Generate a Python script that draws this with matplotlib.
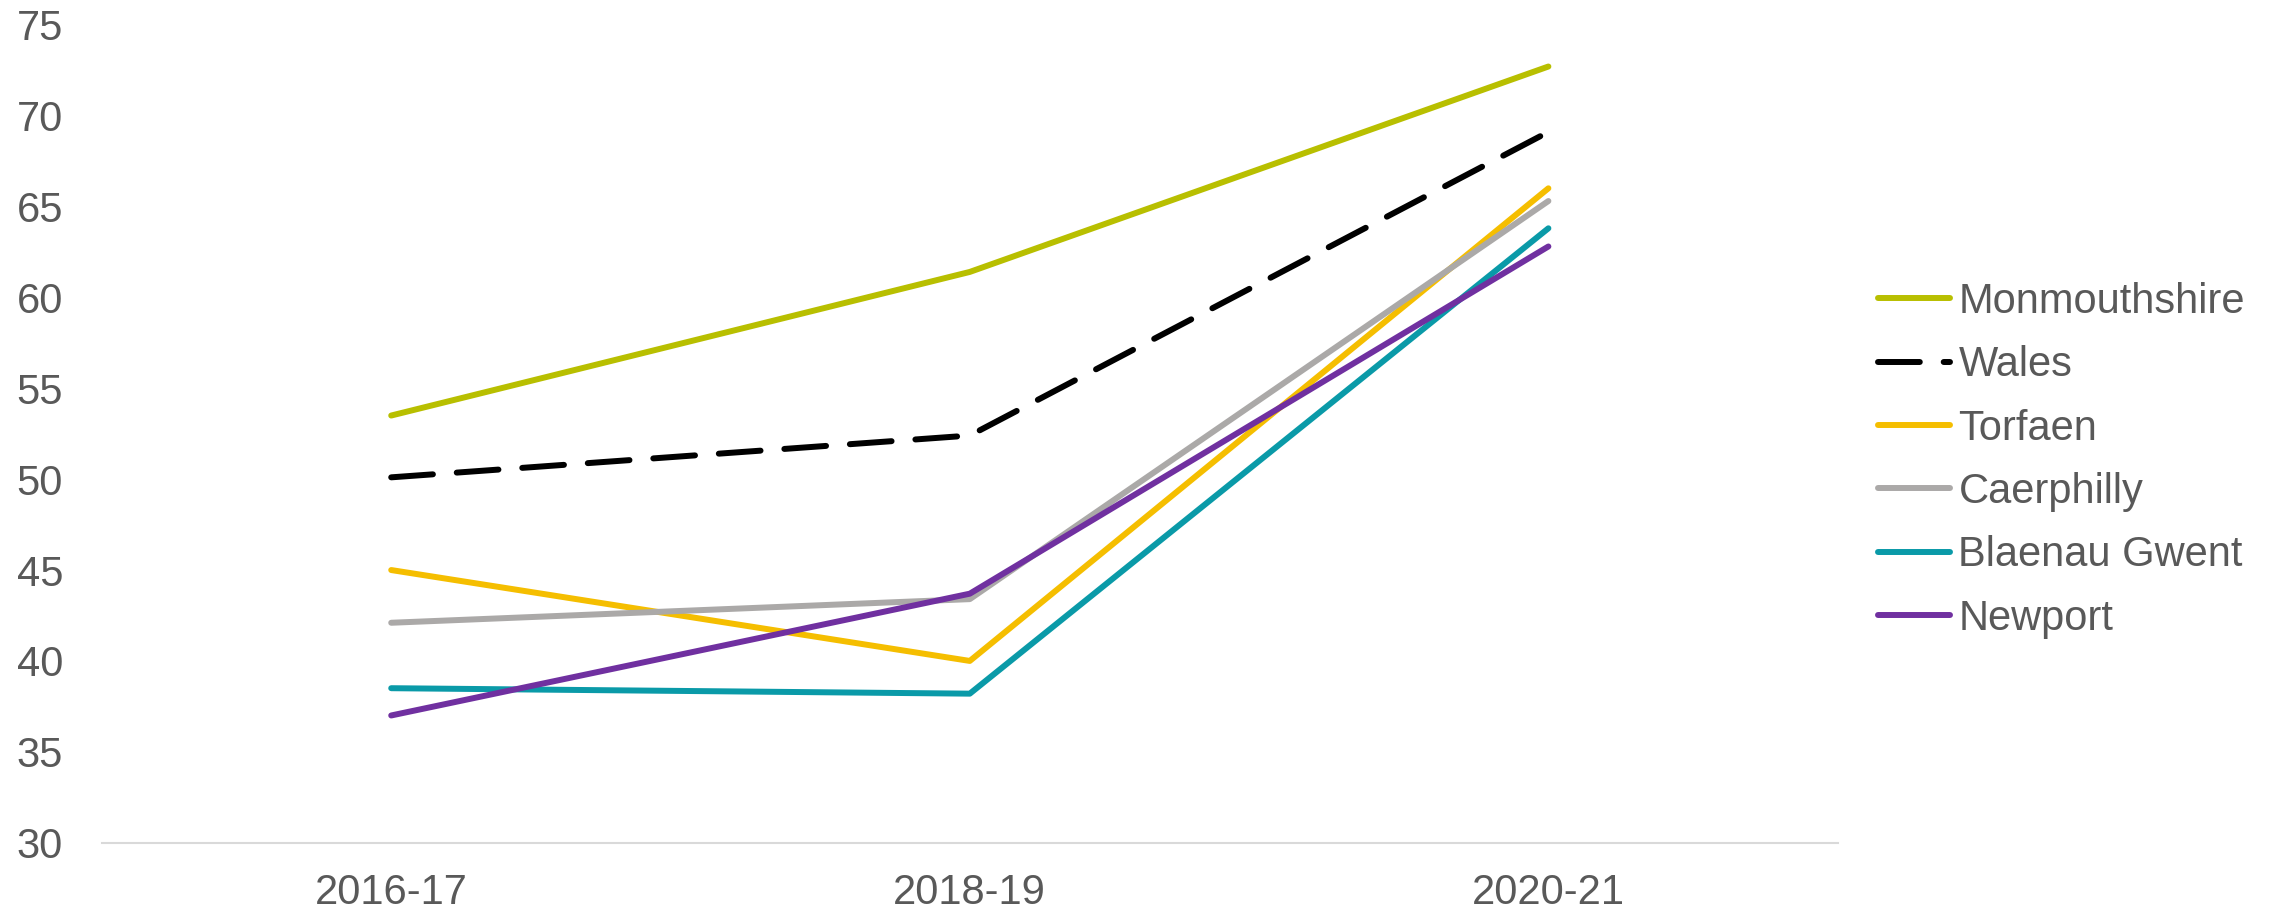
import matplotlib.pyplot as plt

plt.rcParams['font.family'] = ['Liberation Sans', 'DejaVu Sans']

years = ["2016-17", "2018-19", "2020-21"]

monmouthshire = [53.5, 61.4, 72.7]
wales = [50.1, 52.4, 69.1]
torfaen = [45.0, 40.0, 66.0]
caerphilly = [42.1, 43.4, 65.3]
blaenau_gwent = [38.5, 38.2, 63.8]
newport = [37.0, 43.7, 62.8]

text_col = "#595959"

fig = plt.figure(figsize=(22.8, 9.15), dpi=100)
ax = fig.add_axes([0.0447, 0.079, 0.7613, 0.894])

x = range(len(years))
lw = 4.3
ax.plot(x, monmouthshire, color="#B8BF00", lw=lw, solid_capstyle="round", label="Monmouthshire")
ax.plot(x, wales, color="black", lw=lw, dashes=(7, 4), dash_capstyle="round", label="Wales")
ax.plot(x, torfaen, color="#F5BE00", lw=lw, solid_capstyle="round", label="Torfaen")
ax.plot(x, caerphilly, color="#ABA9A8", lw=lw, solid_capstyle="round", label="Caerphilly")
ax.plot(x, blaenau_gwent, color="#0A9AA8", lw=lw, solid_capstyle="round", label="Blaenau Gwent")
ax.plot(x, newport, color="#7030A0", lw=lw, solid_capstyle="round", label="Newport")

ax.set_xlim(-0.5, 2.5)
ax.set_ylim(30, 75)
ax.set_yticks(range(30, 80, 5))
ax.set_xticks(list(x))
ax.set_xticklabels(years)
ax.tick_params(length=0, labelsize=30, colors=text_col)
ax.tick_params(axis="x", pad=21.5)
ax.tick_params(axis="y", pad=28)

for s in ["top", "right", "left"]:
    ax.spines[s].set_visible(False)
ax.spines["bottom"].set_color("#D9D9D9")
ax.spines["bottom"].set_linewidth(1.5)

leg = fig.legend(loc="center left", bbox_to_anchor=(0.8237, 0.497), frameon=False,
                 borderpad=0, borderaxespad=0,
                 fontsize=30, handlelength=1.73, handletextpad=0.2, labelspacing=0.56)
for t in leg.get_texts():
    t.set_color(text_col)

fig.savefig("out.png", dpi=100)
